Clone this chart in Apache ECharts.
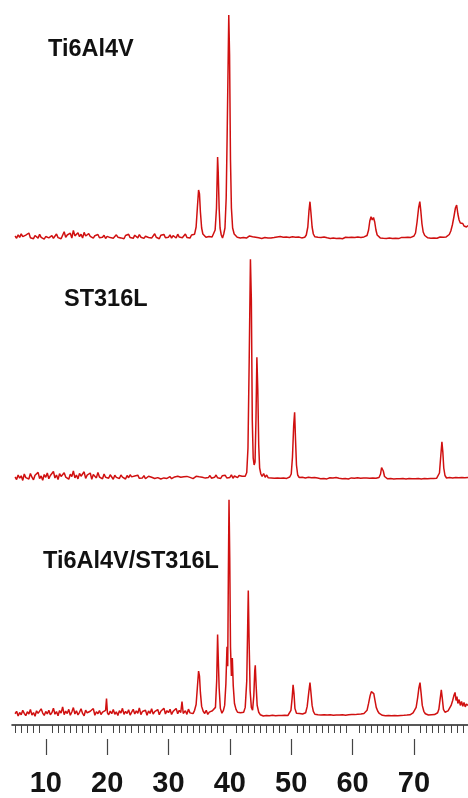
<!DOCTYPE html>
<html>
<head>
<meta charset="utf-8">
<script src="https://cdn.jsdelivr.net/npm/echarts@6/dist/echarts.min.js"></script>
<style>
  html, body { margin: 0; padding: 0; background: #fff; }
  #chart { width: 468px; height: 798px; }
</style>
</head>
<body>
<div id="chart"></div>
<script>
// XRD patterns, 2θ (degrees) vs intensity (counts)
const sampleNames = ['Ti6Al4V', 'ST316L', 'Ti6Al4V/ST316L'];

const ti64 = [
  [5,140],[5.25,118],[5.5,152],[5.75,126],[6,161],[6.25,133],[6.5,115],[6.75,148],[7,129],[7.25,170],
  [7.5,122],[7.75,138],[8,112],[8.25,145],[8.5,131],[8.75,119],[9,156],[9.25,127],[9.5,140],[9.75,108],
  [10,135],[10.25,150],[10.5,121],[10.75,129],[11,144],[11.25,117],[11.5,132],[11.75,160],[12,124],[12.25,139],
  [12.5,112],[12.75,147],[13,182],[13.25,126],[13.5,150],[13.75,135],[14,168],[14.25,120],[14.5,195],[14.75,141],
  [15,129],[15.25,172],[15.5,133],[15.75,158],[16,119],[16.25,176],[16.5,140],[16.75,125],[17,163],[17.25,137],
  [17.5,149],[17.75,118],[18,143],[18.25,131],[18.5,155],[18.75,122],[19,139],[19.25,127],[19.5,148],[19.75,115],
  [20,136],[20.25,150],[20.5,124],[20.75,141],[21,118],[21.25,133],[21.5,152],[21.75,128],[22,146],[22.25,121],
  [22.5,137],[22.75,112],[23,145],[23.25,130],[23.5,158],[23.75,124],[24,139],[24.25,117],[24.5,148],[24.75,133],
  [25,121],[25.25,155],[25.5,128],[25.75,142],[26,116],[26.25,138],[26.5,150],[26.75,125],[27,143],[27.25,119],
  [27.5,135],[27.75,162],[28,127],[28.25,140],[28.5,113],[28.75,148],[29,131],[29.25,156],[29.5,122],[29.75,139],
  [30,128],[30.25,151],[30.5,118],[30.75,144],[31,133],[31.25,120],[31.5,158],[31.75,129],[32,146],[32.25,123],
  [32.5,137],[32.75,160],[33,126],[33.25,141],[33.5,119],[33.75,150],[34,135],[34.25,158],[34.5,230],[34.7,420],
  [34.9,600],[35.05,560],[35.2,380],[35.4,220],[35.6,160],[35.85,140],[36.1,128],[36.35,112],[36.6,135],[36.85,118],
  [37.1,130],[37.35,150],[37.6,200],[37.82,420],[38,930],[38.1,780],[38.25,420],[38.4,220],[38.6,150],[38.8,120],
  [39,160],[39.2,220],[39.4,520],[39.55,1120],[39.7,1800],[39.82,2350],[39.95,1950],[40.1,900],[40.25,420],[40.45,220],
  [40.7,160],[40.95,140],[41.2,128],[41.45,142],[41.7,121],[41.95,135],[42.2,126],[42.45,138],[42.7,119],[42.95,130],
  [43.2,141],[43.45,124],[43.7,133],[43.95,118],[44.2,128],[44.45,137],[44.7,122],[44.95,131],[45.2,116],[45.45,129],
  [45.7,124],[45.95,136],[46.2,119],[46.45,128],[46.7,121],[46.95,133],[47.2,125],[47.45,117],[47.7,130],[47.95,122],
  [48.2,134],[48.45,118],[48.7,127],[48.95,121],[49.2,131],[49.45,116],[49.7,126],[49.95,120],[50.2,132],[50.45,122],
  [50.7,128],[50.95,117],[51.2,130],[51.45,124],[51.7,121],[51.95,135],[52.2,128],[52.45,150],[52.7,230],[52.9,400],
  [53.05,483],[53.2,380],[53.4,230],[53.6,160],[53.85,132],[54.1,120],[54.35,127],[54.6,115],[54.85,124],[55.1,118],
  [55.35,129],[55.6,114],[55.85,122],[56.1,127],[56.35,116],[56.6,124],[56.85,119],[57.1,128],[57.35,115],[57.6,123],
  [57.85,118],[58.1,126],[58.35,113],[58.6,121],[58.85,127],[59.1,117],[59.35,124],[59.6,119],[59.85,128],[60.1,116],
  [60.35,125],[60.6,121],[60.85,130],[61.1,118],[61.35,126],[61.6,122],[61.85,131],[62.1,126],[62.35,145],[62.6,200],
  [62.8,290],[63,333],[63.2,300],[63.4,325],[63.6,280],[63.8,200],[64,150],[64.25,130],[64.5,121],[64.75,127],
  [65,118],[65.25,124],[65.5,116],[65.75,123],[66,119],[66.25,127],[66.5,115],[66.75,122],[67,118],[67.25,125],
  [67.5,114],[67.75,121],[68,126],[68.25,117],[68.5,124],[68.75,119],[69,128],[69.25,121],[69.5,126],[69.75,130],
  [70,140],[70.25,170],[70.5,280],[70.75,420],[70.95,483],[71.1,400],[71.3,260],[71.5,180],[71.75,145],[72,128],
  [72.25,122],[72.5,129],[72.75,118],[73,125],[73.25,120],[73.5,127],[73.75,117],[74,124],[74.25,130],[74.5,121],
  [74.75,128],[75,123],[75.25,131],[75.5,140],[75.75,155],[76,190],[76.25,250],[76.5,330],[76.75,420],[76.95,450],
  [77.15,360],[77.35,300],[77.55,270],[77.75,250],[77.95,265],[78.15,240],[78.35,255],[78.55,230],[78.8,245]
];

const st316l = [
  [5,130],[5.25,105],[5.5,150],[5.75,118],[6,142],[6.25,96],[6.5,160],[6.75,124],[7,138],[7.25,110],
  [7.5,165],[7.75,128],[8,102],[8.25,147],[8.5,133],[8.75,176],[9,115],[9.25,140],[9.5,98],[9.75,155],
  [10,127],[10.25,170],[10.5,112],[10.75,145],[11,131],[11.25,185],[11.5,120],[11.75,150],[12,104],[12.25,163],
  [12.5,136],[12.75,118],[13,172],[13.25,129],[13.5,147],[13.75,108],[14,158],[14.25,134],[14.5,190],[14.75,121],
  [15,150],[15.25,111],[15.5,166],[15.75,138],[16,125],[16.25,182],[16.5,116],[16.75,149],[17,132],[17.25,170],
  [17.5,107],[17.75,155],[18,138],[18.25,121],[18.5,176],[18.75,130],[19,146],[19.25,112],[19.5,160],[19.75,127],
  [20,142],[20.25,118],[20.5,152],[20.75,135],[21,108],[21.25,148],[21.5,126],[21.75,140],[22,115],[22.25,150],
  [22.5,129],[22.75,137],[23,110],[23.25,145],[23.5,123],[23.75,152],[24,131],[24.25,114],[24.5,140],[24.75,126],
  [25,148],[25.25,117],[25.5,135],[25.75,121],[26,144],[26.25,112],[26.5,130],[26.75,138],[27,118],[27.25,127],
  [27.5,142],[27.75,115],[28,132],[28.25,124],[28.5,137],[28.75,110],[29,129],[29.25,121],[29.5,140],[29.75,116],
  [30,128],[30.25,134],[30.5,113],[30.75,125],[31,131],[31.25,119],[31.5,138],[31.75,122],[32,127],[32.25,115],
  [32.5,133],[32.75,120],[33,136],[33.25,118],[33.5,126],[33.75,131],[34,114],[34.25,129],[34.5,137],[34.75,121],
  [35,132],[35.25,116],[35.5,128],[35.75,140],[36,119],[36.25,131],[36.5,124],[36.75,145],[37,118],[37.25,133],
  [37.5,127],[37.75,150],[38,122],[38.25,138],[38.5,115],[38.75,142],[39,128],[39.25,147],[39.5,120],[39.75,136],
  [40,126],[40.25,152],[40.5,118],[40.75,140],[41,131],[41.25,124],[41.5,145],[41.75,129],[42,137],[42.25,150],
  [42.5,138],[42.75,175],[42.95,420],[43.15,1300],[43.35,2307],[43.5,1900],[43.65,700],[43.8,320],[43.95,250],[44.1,280],
  [44.25,700],[44.4,1327],[44.55,1000],[44.7,450],[44.85,220],[45.05,160],[45.25,135],[45.5,165],[45.75,128],[46,150],
  [46.25,122],[46.5,141],[46.75,120],[47,132],[47.25,118],[47.5,126],[47.75,121],[48,129],[48.25,117],[48.5,125],
  [48.75,120],[49,128],[49.25,116],[49.5,123],[49.75,130],[50,160],[50.2,330],[50.4,650],[50.55,777],[50.7,500],
  [50.85,250],[51.05,150],[51.3,125],[51.55,118],[51.8,127],[52.05,114],[52.3,121],[52.55,116],[52.8,128],[53.05,112],
  [53.3,122],[53.55,117],[53.8,125],[54.05,110],[54.3,119],[54.55,124],[54.8,113],[55.05,120],[55.3,116],[55.55,126],
  [55.8,111],[56.05,118],[56.3,122],[56.55,112],[56.8,120],[57.05,115],[57.3,124],[57.55,110],[57.8,118],[58.05,121],
  [58.3,113],[58.55,119],[58.8,114],[59.05,123],[59.3,110],[59.55,117],[59.8,121],[60.05,112],[60.3,118],[60.55,115],
  [60.8,122],[61.05,110],[61.3,117],[61.55,113],[61.8,120],[62.05,114],[62.3,119],[62.55,111],[62.8,118],[63.05,115],
  [63.3,121],[63.55,112],[63.8,118],[64.05,116],[64.3,125],[64.55,160],[64.72,225],[64.85,240],[65,190],[65.2,135],
  [65.45,118],[65.7,112],[65.95,120],[66.2,114],[66.45,119],[66.7,110],[66.95,117],[67.2,113],[67.45,121],[67.7,112],
  [67.95,118],[68.2,114],[68.45,120],[68.7,111],[68.95,117],[69.2,115],[69.45,122],[69.7,113],[69.95,118],[70.2,112],
  [70.45,120],[70.7,115],[70.95,119],[71.2,111],[71.45,118],[71.7,114],[71.95,121],[72.2,113],[72.45,118],[72.7,116],
  [72.95,122],[73.2,115],[73.45,120],[73.7,118],[73.95,126],[74.15,170],[74.35,330],[74.55,483],[74.7,380],[74.85,220],
  [75.05,145],[75.3,120],[75.55,116],[75.8,124],[76.05,114],[76.3,121],[76.55,117],[76.8,125],[77.05,115],[77.3,122],
  [77.55,118],[77.8,126],[78.05,116],[78.3,123],[78.55,119],[78.8,125]
];

const ti64st316l = [
  [5,115],[5.25,140],[5.5,92],[5.75,128],[6,105],[6.25,150],[6.5,118],[6.75,96],[7,135],[7.25,112],
  [7.5,158],[7.75,101],[8,127],[8.25,90],[8.5,145],[8.75,119],[9,108],[9.25,165],[9.5,122],[9.75,98],
  [10,138],[10.25,113],[10.5,150],[10.75,104],[11,126],[11.25,172],[11.5,110],[11.75,137],[12,95],[12.25,148],
  [12.5,121],[12.75,185],[13,106],[13.25,142],[13.5,117],[13.75,160],[14,99],[14.25,133],[14.5,178],[14.75,112],
  [15,146],[15.25,103],[15.5,130],[15.75,165],[16,118],[16.25,94],[16.5,152],[16.75,125],[17,109],[17.25,140],
  [17.5,120],[17.75,168],[18,100],[18.25,136],[18.5,115],[18.75,148],[19,107],[19.25,131],[19.5,119],[19.75,150],
  [19.9,270],[20.05,125],[20.25,104],[20.5,142],[20.75,116],[21,158],[21.25,110],[21.5,135],[21.75,97],[22,146],
  [22.25,123],[22.5,170],[22.75,108],[23,139],[23.25,117],[23.5,155],[23.75,101],[24,132],[24.25,160],[24.5,112],
  [24.75,144],[25,120],[25.25,175],[25.5,106],[25.75,138],[26,125],[26.25,150],[26.5,100],[26.75,143],[27,118],
  [27.25,166],[27.5,111],[27.75,137],[28,127],[28.25,158],[28.5,104],[28.75,141],[29,122],[29.25,172],[29.5,113],
  [29.75,147],[30,126],[30.25,160],[30.5,108],[30.75,139],[31,121],[31.25,168],[31.5,115],[31.75,150],[32,128],
  [32.2,240],[32.4,118],[32.75,145],[33,109],[33.25,162],[33.5,124],[33.75,140],[34,116],[34.25,150],[34.5,210],
  [34.7,380],[34.9,550],[35.05,500],[35.2,330],[35.4,190],[35.65,140],[35.9,118],[36.15,150],[36.4,108],[36.65,132],
  [36.9,115],[37.15,145],[37.4,125],[37.65,180],[37.85,450],[38,923],[38.1,700],[38.25,380],[38.45,170],[38.7,120],
  [38.95,150],[39.15,200],[39.35,420],[39.53,800],[39.65,600],[39.75,1500],[39.86,2300],[39.98,1700],[40.1,800],[40.25,500],
  [40.4,683],[40.55,400],[40.75,220],[41,160],[41.25,130],[41.5,110],[41.75,125],[42,105],[42.25,130],[42.5,180],
  [42.75,450],[42.9,1000],[43,1373],[43.12,900],[43.3,350],[43.5,180],[43.7,150],[43.9,300],[44.05,550],[44.14,610],
  [44.28,400],[44.45,200],[44.7,130],[44.95,105],[45.2,118],[45.45,92],[45.7,110],[45.95,98],[46.2,115],[46.45,94],
  [46.7,108],[46.95,100],[47.2,117],[47.45,95],[47.7,109],[47.95,98],[48.2,112],[48.45,96],[48.7,106],[48.95,99],
  [49.2,114],[49.45,97],[49.7,108],[49.95,150],[50.15,280],[50.3,410],[50.45,320],[50.6,170],[50.85,120],[51.1,102],
  [51.35,118],[51.6,98],[51.85,112],[52.1,105],[52.35,125],[52.6,190],[52.85,330],[53.05,433],[53.2,340],[53.4,200],
  [53.6,140],[53.85,110],[54.1,98],[54.35,104],[54.6,94],[54.85,102],[55.1,96],[55.35,105],[55.6,93],[55.85,101],
  [56.1,97],[56.35,104],[56.6,92],[56.85,100],[57.1,95],[57.35,103],[57.6,94],[57.85,101],[58.1,97],[58.35,105],
  [58.6,93],[58.85,100],[59.1,96],[59.35,104],[59.6,98],[59.85,107],[60.1,99],[60.35,106],[60.6,101],[60.85,110],
  [61.1,103],[61.35,112],[61.6,107],[61.85,118],[62.1,125],[62.35,150],[62.6,220],[62.85,300],[63.05,340],[63.25,360],
  [63.45,320],[63.65,250],[63.85,180],[64.1,140],[64.35,118],[64.6,106],[64.85,99],[65.1,104],[65.35,95],[65.6,101],
  [65.85,97],[66.1,103],[66.35,94],[66.6,100],[66.85,96],[67.1,102],[67.35,95],[67.6,101],[67.85,98],[68.1,105],
  [68.35,99],[68.6,106],[68.85,101],[69.1,110],[69.35,104],[69.6,115],[69.85,125],[70.1,140],[70.35,180],[70.6,280],
  [70.8,380],[70.98,433],[71.15,330],[71.35,200],[71.6,140],[71.85,115],[72.1,108],[72.35,102],[72.6,110],[72.85,104],
  [73.1,112],[73.35,106],[73.6,118],[73.85,125],[74.05,160],[74.25,260],[74.45,360],[74.6,280],[74.8,160],[75.05,130],
  [75.3,125],[75.55,145],[75.8,160],[76.05,200],[76.3,250],[76.5,300],[76.69,333],[76.85,250],[77,290],[77.15,220],
  [77.35,260],[77.55,200],[77.75,240],[77.95,190],[78.15,230],[78.35,185],[78.55,215],[78.8,200]
];

const patterns = [ti64, st316l, ti64st316l];
const intensityMax = [2500, 2400, 2400];

// 2θ axis ticks
const tickLabels = [10, 20, 30, 40, 50, 60, 70];
const minorTickValues = [];
for (let v = 5; v <= 78; v++) { if (v % 10 !== 0) minorTickValues.push(v); }

const thetaMin = 4.5, thetaMax = 78.8;
const lineColor = '#d01010';
const font = '"Liberation Sans", Arial, sans-serif';

const grids = [
  { left: 12, right: 0, top: 0, height: 250 },
  { left: 12, right: 0, top: 250, height: 240 },
  { left: 12, right: 0, top: 490, height: 240 }
];

const xAxes = grids.map((g, i) => ({
  type: 'value', gridIndex: i, min: thetaMin, max: thetaMax, show: i === 2,
  position: 'bottom', offset: 14,
  axisLine: { show: true, lineStyle: { color: '#222', width: 1.6 } },
  axisTick: { show: true, customValues: minorTickValues, length: 8, lineStyle: { color: '#444', width: 1 } },
  axisLabel: {
    show: true, customValues: tickLabels, margin: 30,
    fontSize: 29, fontWeight: 'bold', color: '#141414', fontFamily: font
  },
  splitLine: { show: false }
}));
// long ticks at the labelled positions
xAxes.push({
  type: 'value', gridIndex: 2, min: thetaMin, max: thetaMax, position: 'bottom', offset: 14,
  axisLine: { show: false },
  axisTick: { show: true, customValues: tickLabels, length: 16, lineStyle: { color: '#444', width: 1.2 } },
  axisLabel: { show: false },
  splitLine: { show: false }
});

const yAxes = grids.map((g, i) => ({
  type: 'value', gridIndex: i, min: 0, max: intensityMax[i], show: false
}));

const series = patterns.map((data, i) => ({
  type: 'line', xAxisIndex: i, yAxisIndex: i, data: data,
  showSymbol: false, symbol: 'none',
  lineStyle: { color: lineColor, width: 1.5 },
  silent: true
}));

const titleText = (text, left, top) => ({
  text, left, top,
  textStyle: { fontSize: 23.5, fontWeight: 'bold', color: '#111', fontFamily: font }
});

const chart = echarts.init(document.getElementById('chart'), null, { renderer: 'canvas' });
chart.setOption({
  animation: false,
  backgroundColor: '#fff',
  title: [
    titleText(sampleNames[0], 43, 33),
    titleText(sampleNames[1], 59, 283),
    titleText(sampleNames[2], 38, 545)
  ],
  grid: grids,
  xAxis: xAxes,
  yAxis: yAxes,
  series: series
});
</script>
</body>
</html>
